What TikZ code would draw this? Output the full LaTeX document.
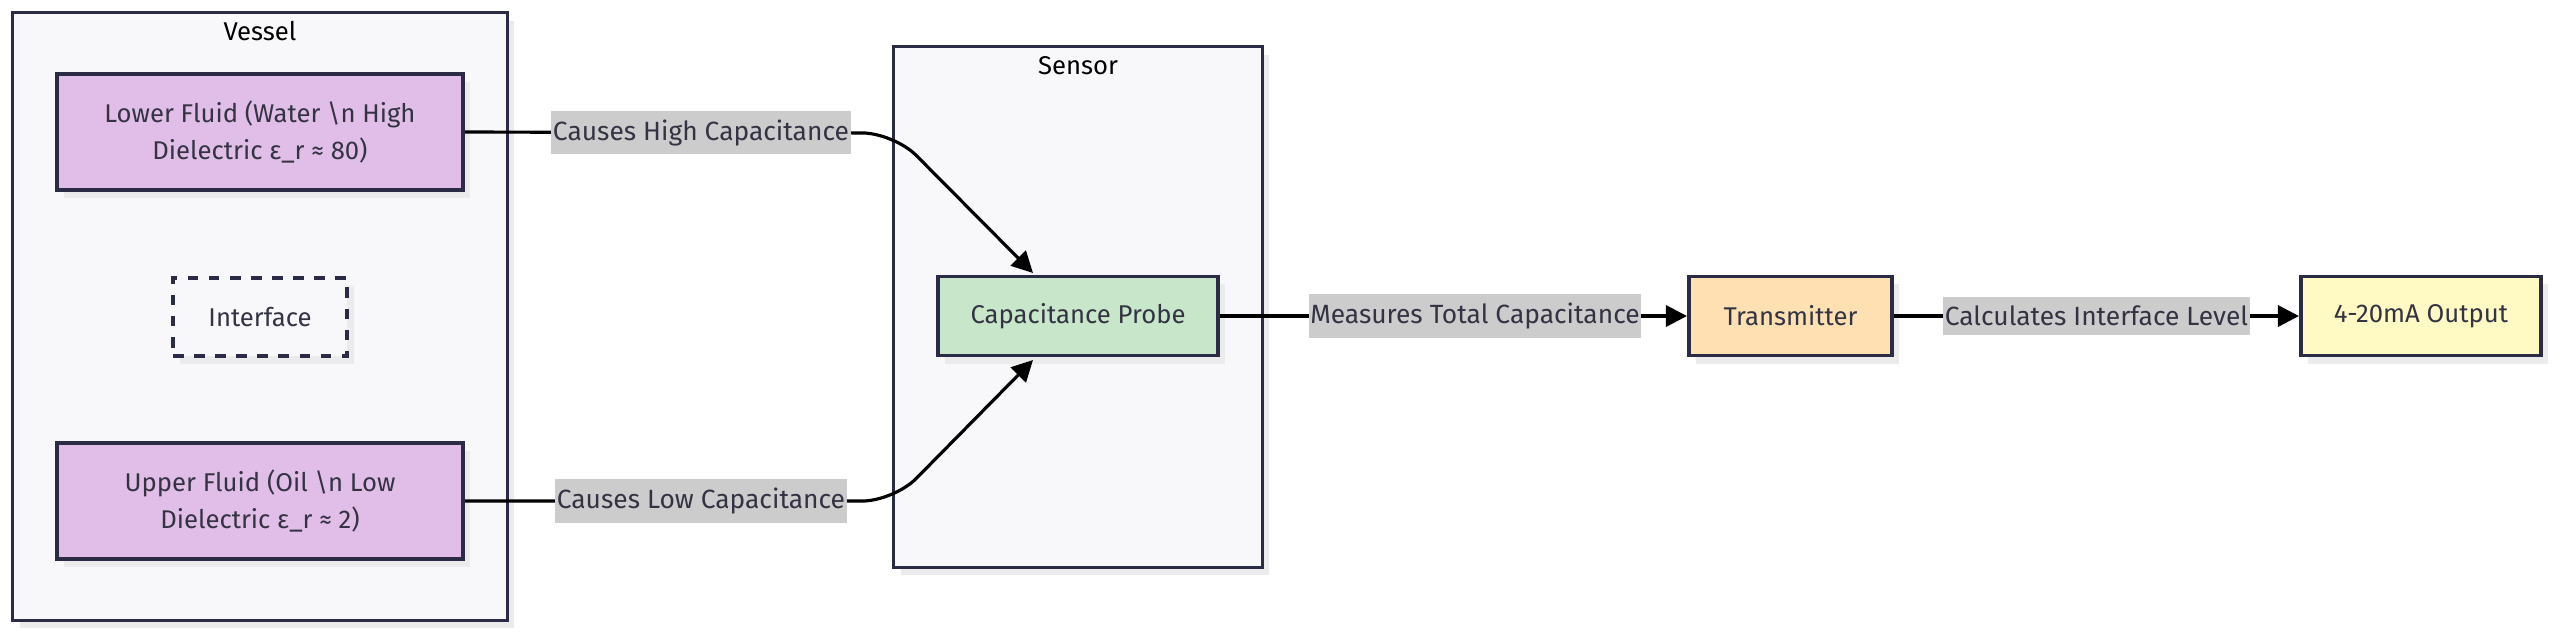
\documentclass[tikz,border=0pt]{standalone}
\usepackage{fontspec}
\setmainfont{Fira Sans}
\usetikzlibrary{arrows.meta,shadows}

\definecolor{ink}{HTML}{2B2B45}
\definecolor{groupbg}{HTML}{F8F8FA}
\definecolor{fluidfill}{HTML}{E1BEE7}
\definecolor{probefill}{HTML}{C8E6C9}
\definecolor{xmitfill}{HTML}{FFE0B2}
\definecolor{outfill}{HTML}{FFF9C4}
\definecolor{lblbg}{HTML}{CCCCCC}
\definecolor{txt}{HTML}{333344}

\tikzset{
  shade box/.style={drop shadow={shadow xshift=0.07cm,shadow yshift=-0.08cm,fill=black!8,opacity=1}},
  box/.style={draw=ink, line width=1.1pt, text=txt, align=center, inner sep=0pt,
    font=\fontsize{7.3}{10.5}\selectfont, shade box},
  group/.style={draw=ink, line width=0.9pt, fill=groupbg, inner sep=0pt, shade box},
  title/.style={text=black, font=\fontsize{7.3}{9}\selectfont},
  lbl/.style={sharp corners, fill=lblbg, text=txt, inner xsep=0.5pt, inner ysep=2.5pt,
    font=\fontsize{7.5}{9}\selectfont},
  link/.style={black, line width=0.9pt, rounded corners=9pt, -{Triangle[length=6pt,width=6pt]}},
}

\begin{document}
\begin{tikzpicture}[x=0.01cm,y=-0.01cm]
    \useasboundingbox[fill=white] (0,0) rectangle (2560,635);

    % groups
    \node[group, minimum width=4.94cm, minimum height=6.07cm] (vessel) at (260,316.5) {};
    \node[title] (vesseltitle) at (260,31) {Vessel};
    \node[group, minimum width=3.68cm, minimum height=5.20cm] (sensor) at (1078,307) {};
    \node[title] (sensortitle) at (1078,66) {Sensor};

    % vessel contents
    \node[box, fill=fluidfill, minimum width=4.06cm, minimum height=1.16cm] (lower) at (260,132)
        {Lower Fluid (Water \textbackslash n High\\Dielectric ε\_r ≈ 80)};
    \node[box, dashed, fill=groupbg, minimum width=1.74cm, minimum height=0.78cm] (iface) at (260,317) {Interface};
    \node[box, fill=fluidfill, minimum width=4.06cm, minimum height=1.16cm] (upper) at (260,501)
        {Upper Fluid (Oil \textbackslash n Low\\Dielectric ε\_r ≈ 2)};

    % signal chain
    \node[box, fill=probefill, minimum width=2.80cm, minimum height=0.79cm] (probe) at (1078,316) {Capacitance Probe};
    \node[box, fill=xmitfill, minimum width=2.03cm, minimum height=0.79cm] (xmit) at (1790.5,316) {Transmitter};
    \node[box, fill=outfill, minimum width=2.40cm, minimum height=0.79cm] (output) at (2421,316) {4-20mA Output};

    \coordinate (hibend) at (894,133);
    \coordinate (hitip) at (1033,273);
    \coordinate (lobend) at (894,501);
    \coordinate (lotip) at (1033,360);

    \draw[link] (lower.east) -- node[lbl, pos=0.55] {Causes High Capacitance} (hibend) -- (hitip);
    \draw[link] (upper.east) -- node[lbl, pos=0.55] {Causes Low Capacitance} (lobend) -- (lotip);
    \draw[link] (probe.east) -- node[lbl, pos=0.546] {Measures Total Capacitance} (xmit.west);
    \draw[link] (xmit.east) -- node[lbl, pos=0.5] {Calculates Interface Level} (output.west);
\end{tikzpicture}
\end{document}
